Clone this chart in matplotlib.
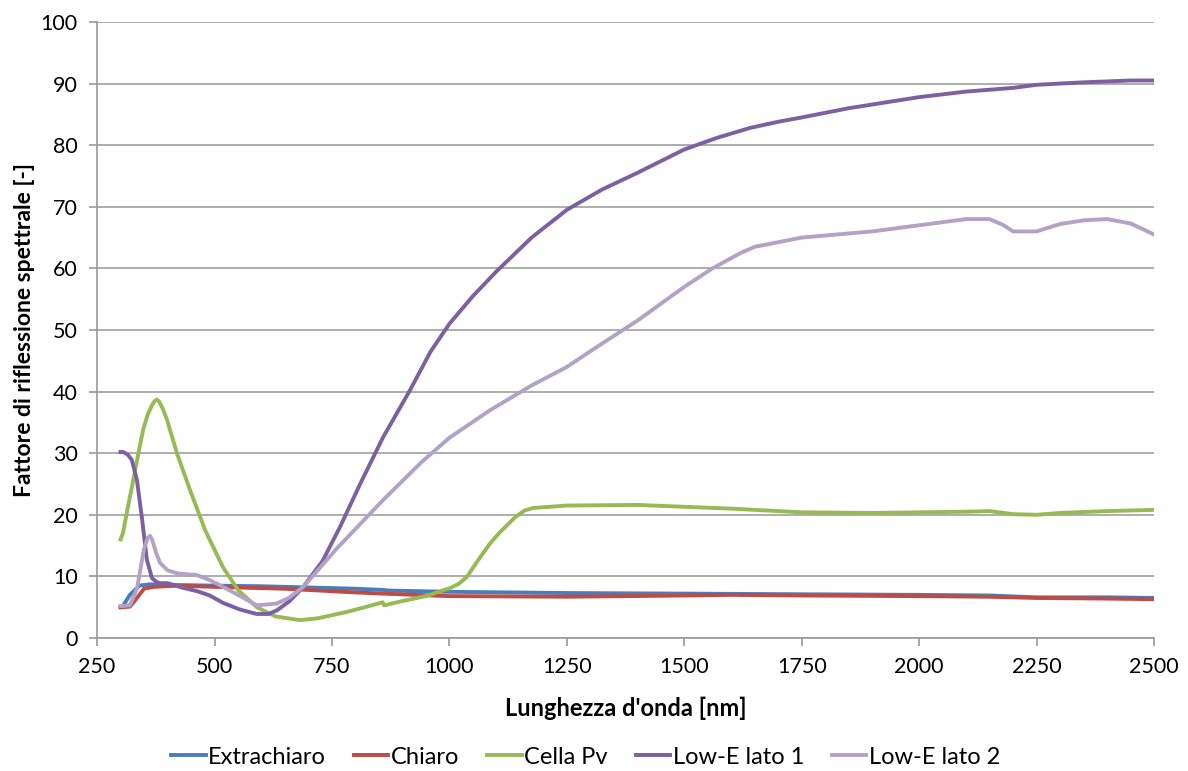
import matplotlib
matplotlib.use("Agg")
import matplotlib.pyplot as plt

plt.rcParams['font.family'] = ['Lato', 'DejaVu Sans']

# Extrachiaro
x_extra = [300, 305, 320, 340, 360, 380, 420, 500, 600, 700, 800, 860, 870, 1000, 1250, 1500, 1750, 2000, 2150, 2250, 2400, 2500]
y_extra = [5.0, 5.2, 7.0, 8.5, 8.7, 8.7, 8.6, 8.5, 8.4, 8.2, 8.0, 7.8, 7.7, 7.5, 7.3, 7.2, 7.1, 7.0, 6.9, 6.6, 6.6, 6.5]

# Chiaro
x_chiaro = [300, 305, 320, 335, 350, 370, 420, 500, 650, 800, 860, 1000, 1250, 1500, 1600, 1750, 2000, 2150, 2250, 2400, 2500]
y_chiaro = [5.0, 5.0, 5.1, 6.5, 8.0, 8.3, 8.5, 8.3, 8.0, 7.4, 7.2, 6.8, 6.7, 6.9, 7.0, 6.9, 6.8, 6.7, 6.5, 6.4, 6.3]

# Cella Pv
x_cella = [300, 305, 315, 327, 338, 348, 358, 367, 373, 377, 382, 390, 399, 420, 448, 480, 518, 550, 590, 630, 682, 720, 780, 820, 858, 861, 900, 950, 1001, 1020, 1037, 1060, 1087, 1108, 1140, 1160, 1178, 1250, 1400, 1500, 1600, 1750, 1900, 2000, 2100, 2150, 2200, 2250, 2300, 2400, 2500]
y_cella = [16.0, 17.0, 21.0, 25.6, 30.0, 33.8, 36.3, 37.8, 38.5, 38.7, 38.4, 37.2, 35.4, 30.0, 24.0, 17.5, 11.5, 7.8, 5.0, 3.5, 2.9, 3.2, 4.2, 5.0, 5.8, 5.3, 6.0, 6.8, 8.1, 8.8, 9.9, 12.5, 15.4, 17.2, 19.6, 20.7, 21.1, 21.5, 21.6, 21.3, 21.0, 20.4, 20.3, 20.4, 20.5, 20.6, 20.1, 20.0, 20.3, 20.6, 20.8]

# Low-E lato 1
x_le1 = [300, 305, 315, 324, 335, 346, 356, 367, 377, 384, 400, 430, 463, 490, 518, 555, 590, 615, 633, 660, 689, 730, 767, 810, 859, 916, 960, 1000, 1050, 1100, 1175, 1250, 1325, 1400, 1500, 1570, 1640, 1700, 1750, 1850, 1950, 2000, 2100, 2200, 2250, 2350, 2450, 2500]
y_le1 = [30.2, 30.2, 29.8, 28.9, 25.6, 19.2, 12.7, 9.7, 9.1, 8.9, 8.9, 8.2, 7.6, 6.9, 5.7, 4.6, 3.9, 3.9, 4.5, 6.0, 8.3, 12.5, 18.0, 25.0, 32.6, 40.2, 46.5, 51.0, 55.5, 59.5, 65.0, 69.5, 72.8, 75.5, 79.3, 81.2, 82.8, 83.8, 84.5, 86.0, 87.2, 87.8, 88.7, 89.3, 89.8, 90.2, 90.5, 90.5]

# Low-E lato 2
x_le2 = [300, 305, 320, 335, 350, 358, 363, 368, 375, 384, 400, 420, 463, 490, 518, 555, 590, 633, 660, 689, 760, 859, 940, 1000, 1087, 1175, 1250, 1325, 1400, 1500, 1560, 1620, 1650, 1750, 1900, 2000, 2100, 2150, 2180, 2200, 2250, 2300, 2350, 2400, 2450, 2500]
y_le2 = [5.2, 5.2, 5.3, 8.0, 14.5, 16.3, 16.6, 15.8, 14.0, 12.2, 11.0, 10.5, 10.2, 9.4, 8.3, 6.8, 5.3, 5.6, 6.6, 8.3, 14.5, 22.4, 28.5, 32.5, 37.0, 41.0, 44.0, 47.8, 51.5, 57.0, 60.0, 62.5, 63.5, 65.0, 66.0, 67.0, 68.0, 68.0, 67.0, 66.0, 66.0, 67.2, 67.8, 68.0, 67.3, 65.5]

x_ticks = [250, 500, 750, 1000, 1250, 1500, 1750, 2000, 2250, 2500]
y_ticks = [0, 10, 20, 30, 40, 50, 60, 70, 80, 90, 100]

fig = plt.figure(figsize=(11.88, 7.71), dpi=100)
ax = fig.add_axes([0.0817, 0.1725, 0.8897, 0.799])

lw = 2.8
ax.plot(x_extra, y_extra, color='#4A7EBB', lw=lw, label='Extrachiaro')
ax.plot(x_chiaro, y_chiaro, color='#BE4B48', lw=lw, label='Chiaro')
ax.plot(x_cella, y_cella, color='#98B954', lw=lw, label='Cella Pv')
ax.plot(x_le1, y_le1, color='#7D60A0', lw=lw, label='Low-E lato 1')
ax.plot(x_le2, y_le2, color='#B3A2C7', lw=lw, label='Low-E lato 2')

ax.set_xlim(250, 2500)
ax.set_ylim(0, 100)
ax.set_xticks(x_ticks)
ax.set_yticks(y_ticks)
ax.yaxis.grid(True, color='#A0A0A0', lw=1.2)
ax.set_axisbelow(True)
for s in ['top', 'right']:
    ax.spines[s].set_visible(False)
for s in ['left', 'bottom']:
    ax.spines[s].set_color('#9A9A9A')
    ax.spines[s].set_linewidth(1.2)
ax.tick_params(axis='both', colors='#9A9A9A', length=6, width=1.2, labelsize=15.5,
               labelcolor='black', pad=8)

ax.set_xlabel("Lunghezza d'onda [nm]", fontsize=17, fontweight='bold', labelpad=14)
ax.set_ylabel("Fattore di riflessione spettrale [-]", fontsize=16.5, fontweight='bold', labelpad=4)

fig.legend(loc='center', bbox_to_anchor=(0.493, 0.018), ncol=5, frameon=False, fontsize=17,
           handlelength=1.45, handletextpad=0.1, columnspacing=1.2)

fig.savefig('out.png', dpi=100)
